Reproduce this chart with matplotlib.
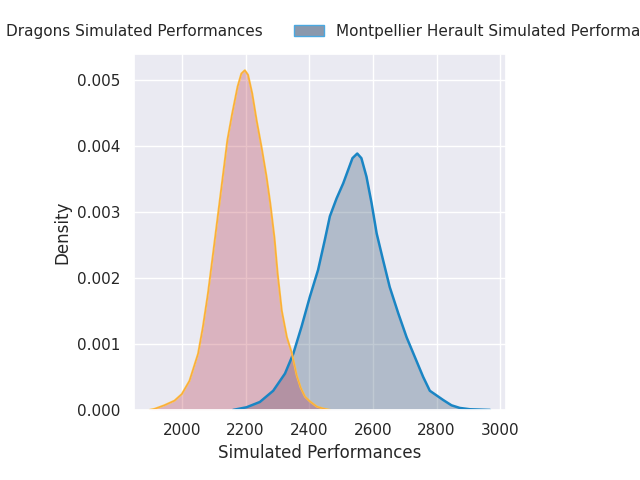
import matplotlib
matplotlib.use("Agg")
import matplotlib.pyplot as plt
import matplotlib.patches as mpatches
import seaborn as sns

sns.set_theme(style="darkgrid")

# values
dragons_x = [1899, 1914, 1945, 1977, 2000, 2024, 2051, 2066, 2082, 2098, 2114,
             2130, 2143, 2158, 2175, 2187, 2198, 2208, 2221, 2235, 2251, 2266,
             2278, 2291, 2301, 2314, 2330, 2345, 2361, 2373, 2387, 2402, 2424,
             2444, 2465]
dragons_y = [0.0, 0.000015, 0.00007, 0.00014, 0.00024, 0.00044, 0.00085,
             0.00125, 0.00176, 0.00236, 0.00297, 0.00358, 0.00408, 0.00448,
             0.00489, 0.00509, 0.00514, 0.00507, 0.00479, 0.00438, 0.00396,
             0.00353, 0.00312, 0.00260, 0.00206, 0.00150, 0.00110, 0.00087,
             0.00052, 0.00034, 0.00020, 0.00013, 0.00005, 0.00002, 0.0]

mhsc_x = [2161, 2203, 2245, 2287, 2324, 2350, 2376, 2402, 2428, 2449, 2465, 2486,
          2507, 2523, 2536, 2551, 2564, 2580, 2596, 2612, 2632, 2653, 2680, 2706,
          2732, 2758, 2779, 2800, 2821, 2847, 2873, 2905, 2968]
mhsc_y = [0.0, 0.00004, 0.00012, 0.00029, 0.00055, 0.00085, 0.00126, 0.00171,
          0.00212, 0.00257, 0.00293, 0.0032, 0.00343, 0.00364, 0.00381, 0.00388,
          0.00381, 0.00353, 0.00313, 0.00267, 0.00227, 0.00186, 0.00146, 0.0011,
          0.0008, 0.0005, 0.00029, 0.00022, 0.00015, 0.00007, 0.00003, 0.00001,
          0.0]

labels = ["Dragons Simulated Performances", "Montpellier Herault Simulated Performances"]
xticks = [2000, 2200, 2400, 2600, 2800, 3000]
yticks = [0, 0.001, 0.002, 0.003, 0.004, 0.005]

fig = plt.figure(figsize=(6.4, 4.8), dpi=100)
ax = fig.add_axes([0.209, 0.146, 0.582, 0.742])

ax.fill_between(mhsc_x, mhsc_y, color="#2f4f6f", alpha=0.3, lw=0)
ax.fill_between(dragons_x, dragons_y, color="#b8364b", alpha=0.3, lw=0)
ax.plot(mhsc_x, mhsc_y, color="#1a85c4", lw=1.8)
ax.plot(dragons_x, dragons_y, color="#ffc23e", lw=1.5)
ax.plot(dragons_x, dragons_y, color="#dc3c50", lw=0.3, alpha=0.4)

ax.set_xlim(1849, 3019)
ax.set_ylim(0, 0.00539)
ax.set_xticks(xticks)
ax.set_yticks(yticks)
ax.set_yticklabels(["%.3f" % v for v in yticks])
ax.set_xlabel("Simulated Performances")
ax.set_ylabel("Density")

h1 = mpatches.Patch(facecolor="#d9a3ad", edgecolor="#ffc23e", label=labels[0])
h2 = mpatches.Patch(facecolor="#8a98ac", edgecolor="#4aa8e0", label=labels[1])
fig.legend(handles=[h1, h2], loc="center", bbox_to_anchor=(0.5, 0.935), ncol=2,
           frameon=False, fontsize=11)

fig.savefig("out.png", dpi=100)
